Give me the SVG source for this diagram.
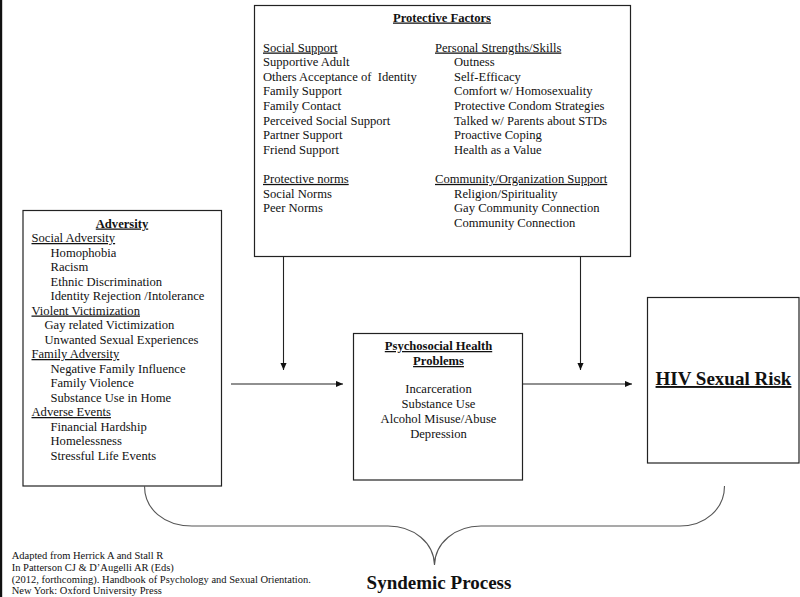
<svg xmlns="http://www.w3.org/2000/svg" width="800" height="597" viewBox="0 0 800 597">
<style>
text{font-family:"Liberation Serif","Times New Roman",serif;fill:#111;font-size:12.6px}
.h{font-weight:bold;text-decoration:underline}
.u{text-decoration:underline}
.c{text-anchor:middle}
.box{fill:#fff;stroke:#222;stroke-width:1.2}
.con{stroke:#222;stroke-width:1.1;fill:none}
.brace{stroke:#555;stroke-width:1.1;fill:none}
.cite{font-size:10.5px}
</style>
<defs>
<marker id="ah" viewBox="0 0 8 8" refX="8" refY="4" markerWidth="7" markerHeight="7" markerUnits="userSpaceOnUse" orient="auto">
<path d="M0,0.5 L8,4 L0,7.5 Z" fill="#111"/>
</marker>
</defs>
<rect width="800" height="597" fill="#fff"/>
<rect x="0" y="0" width="2.2" height="597" fill="#111"/>

<g id="protective-factors">
<rect class="box" x="254.5" y="5.5" width="376" height="251"/>
<text class="h c" x="442" y="21.5">Protective Factors</text>
<text class="u" x="263" y="51.5">Social Support</text>
<text x="263" y="66.1">Supportive Adult</text>
<text x="263" y="80.7" xml:space="preserve">Others Acceptance of  Identity</text>
<text x="263" y="95.3">Family Support</text>
<text x="263" y="109.9">Family Contact</text>
<text x="263" y="124.5">Perceived Social Support</text>
<text x="263" y="139.1">Partner Support</text>
<text x="263" y="153.7">Friend Support</text>
<text class="u" x="263" y="182.9">Protective norms</text>
<text x="263" y="197.5">Social Norms</text>
<text x="263" y="212.1">Peer Norms</text>
<text class="u" x="435" y="51.5">Personal Strengths/Skills</text>
<text x="454" y="66.1">Outness</text>
<text x="454" y="80.7">Self-Efficacy</text>
<text x="454" y="95.3">Comfort w/ Homosexuality</text>
<text x="454" y="109.9">Protective Condom Strategies</text>
<text x="454" y="124.5">Talked w/ Parents about STDs</text>
<text x="454" y="139.1">Proactive Coping</text>
<text x="454" y="153.7">Health as a Value</text>
<text class="u" x="435" y="182.9">Community/Organization Support</text>
<text x="454" y="197.5">Religion/Spirituality</text>
<text x="454" y="212.1">Gay Community Connection</text>
<text x="454" y="226.7">Community Connection</text>
</g>

<g id="adversity">
<rect class="box" x="23" y="210.5" width="198.5" height="275.5"/>
<text class="h c" x="122" y="227.5">Adversity</text>
<text class="u" x="31.5" y="242">Social Adversity</text>
<text x="50.5" y="256.5">Homophobia</text>
<text x="50.5" y="271">Racism</text>
<text x="50.5" y="285.5">Ethnic Discrimination</text>
<text x="50.5" y="300">Identity Rejection /Intolerance</text>
<text class="u" x="31.5" y="314.5">Violent Victimization</text>
<text x="44.5" y="329">Gay related Victimization</text>
<text x="44.5" y="343.5">Unwanted Sexual Experiences</text>
<text class="u" x="31.5" y="358">Family Adversity</text>
<text x="50.5" y="372.5">Negative Family Influence</text>
<text x="50.5" y="387">Family Violence</text>
<text x="50.5" y="401.5">Substance Use in Home</text>
<text class="u" x="31.5" y="416">Adverse Events</text>
<text x="50.5" y="430.5">Financial Hardship</text>
<text x="50.5" y="445">Homelessness</text>
<text x="50.5" y="459.5">Stressful Life Events</text>
</g>

<g id="psychosocial">
<rect class="box" x="353.5" y="333.5" width="169" height="146.5"/>
<text class="h c" x="438.5" y="350">Psychosocial Health</text>
<text class="h c" x="438.5" y="365">Problems</text>
<text class="c" x="438.5" y="393.3">Incarceration</text>
<text class="c" x="438.5" y="408.3">Substance Use</text>
<text class="c" x="438.5" y="423.3">Alcohol Misuse/Abuse</text>
<text class="c" x="438.5" y="437.8">Depression</text>
</g>

<g id="hiv-sexual-risk">
<rect class="box" x="647.5" y="297.5" width="151.5" height="165.5"/>
<text class="h c" x="723.5" y="385" style="font-size:19px">HIV Sexual Risk</text>
</g>

<g id="connectors">
<line class="con" x1="283.5" y1="257" x2="283.5" y2="370" marker-end="url(#ah)"/>
<line class="con" x1="580.5" y1="257" x2="580.5" y2="370" marker-end="url(#ah)"/>
<line class="con" x1="231" y1="384" x2="343" y2="384" marker-end="url(#ah)"/>
<line class="con" x1="522.5" y1="384" x2="632" y2="384" marker-end="url(#ah)"/>
</g>

<g id="syndemic-process">
<path class="brace" d="M144.5,486 C144.5,509 164,526 192,526 L388,526 C414,526 434,543 434.5,565 C435,543 455,526 481,526 L680,526 C705,526 724.5,509 724.5,486"/>
<text class="c" x="439" y="589" style="font-size:19px;font-weight:bold">Syndemic Process</text>
</g>

<g id="citation">
<text class="cite" x="11.7" y="559.3">Adapted from Herrick A and Stall R</text>
<text class="cite" x="11.7" y="571">In Patterson CJ &amp; D’Augelli AR (Eds)</text>
<text class="cite" x="11.7" y="582.7">(2012, forthcoming). Handbook of Psychology and Sexual Orientation.</text>
<text class="cite" x="11.7" y="594.3">New York: Oxford University Press</text>
</g>
</svg>
